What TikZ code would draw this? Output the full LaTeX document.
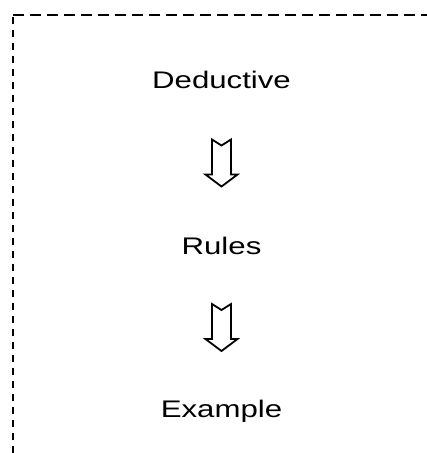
\documentclass[tikz,border=0pt]{standalone}
\usepackage{fontspec}
\setmainfont{Liberation Sans}
\usetikzlibrary{calc}
\tikzset{
  stagetext/.style={anchor=base, inner sep=0pt, font=\fontsize{24}{28}\selectfont},
  hollowarrow/.style={draw=black, fill=white, line width=1.8pt, line join=miter},
}
\newcommand{\widetext}[1]{\scalebox{1.3}[1]{#1}}
\begin{document}
\begin{tikzpicture}[x=1pt,y=-1pt]
    \useasboundingbox (0,0) rectangle (427,453);
    % dashed frame, runs off the right and bottom
    \draw[line width=2pt, dash pattern=on 7pt off 6pt] (12.5,453) -- (12.5,14.5);
    \draw[line width=2pt, dash pattern=on 11pt off 6pt] (12.5,14.5) -- (427,14.5);
    \node[stagetext] (ded) at (221.5,88) {\widetext{Deductive}};
    \node[stagetext] (rul) at (221.5,254) {\widetext{Rules}};
    \node[stagetext] (exa) at (221.5,417) {\widetext{Example}};
    \foreach \a/\b in {ded/rul,rul/exa}{
        \pgfmathsetmacro{\shaft}{9.5};
        \pgfmathsetmacro{\head}{6.5};
        \draw[hollowarrow] ($(\a.base)!.5!(\b.base)$) ++(-\shaft,-31.5) -- ++(\shaft,6) -- ++(\shaft,-6) -- ++(0,35) -- ++(\head,0) -- ++(-16,12) -- ++(-16,-12) -- ++(\head,0) -- cycle;
    }
\end{tikzpicture}
\end{document}
